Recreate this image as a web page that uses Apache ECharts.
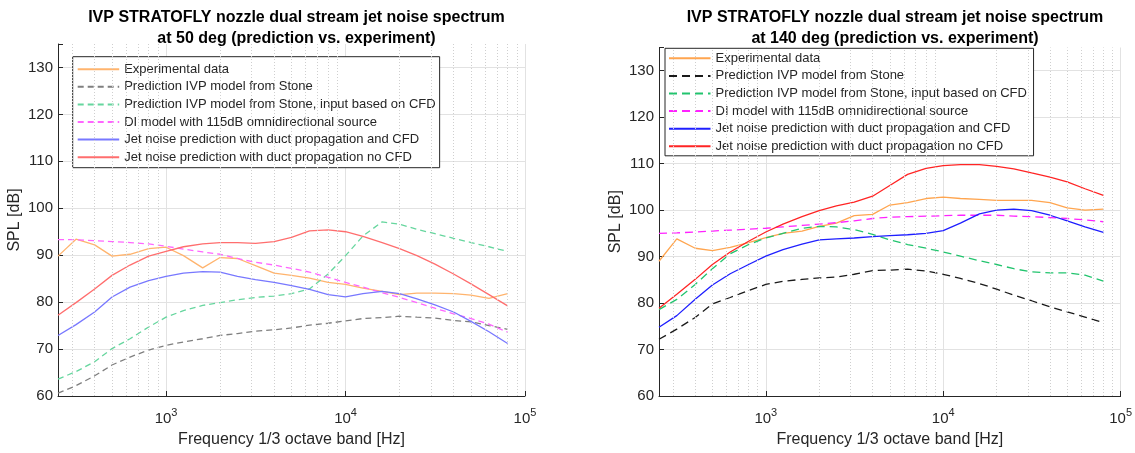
<!DOCTYPE html>
<html>
<head>
<meta charset="utf-8">
<script src="https://cdn.jsdelivr.net/npm/echarts@6/dist/echarts.min.js"></script>
<style>
  html, body { margin: 0; padding: 0; background: #fff; }
  #chart { width: 1135px; height: 453px; }
</style>
</head>
<body>
<div id="chart"></div>
<script>
// 1/3 octave band centre frequencies [Hz]
const freqs = [250, 315, 400, 500, 630, 800, 1000, 1250, 1600, 2000, 2500, 3150, 4000,
  5000, 6300, 8000, 10000, 12500, 16000, 20000, 25000, 31500, 40000, 50000, 63000, 80000];

// 50 deg
const exp50 = [89.8, 93.4, 92.2, 89.8, 90.2, 91.4, 91.7, 89.9, 87.3, 89.5, 89.3, 87.8, 86.2,
  85.7, 85.1, 84.2, 83.8, 83.0, 82.3, 81.6, 81.9, 81.9, 81.8, 81.5, 80.8, 81.8];
const stone50 = [60.6, 62.2, 64.3, 66.6, 68.3, 69.8, 70.8, 71.5, 72.2, 72.9, 73.3, 73.8, 74.1,
  74.5, 75.1, 75.5, 76.0, 76.5, 76.7, 77.0, 76.8, 76.6, 76.1, 75.8, 75.0, 74.2];
const cfd50 = [63.6, 65.2, 67.3, 70.1, 72.2, 74.7, 76.8, 78.2, 79.3, 79.9, 80.5, 81.0, 81.3,
  81.8, 82.8, 86.0, 89.9, 94.1, 97.1, 96.6, 95.5, 94.6, 93.6, 92.7, 91.8, 90.8];
const di50 = [93.3, 93.3, 93.1, 92.9, 92.7, 92.4, 91.9, 91.3, 90.7, 90.2, 89.3, 88.5, 87.9,
  87.2, 86.4, 85.3, 84.2, 83.2, 82.0, 81.0, 79.9, 78.7, 77.5, 76.5, 75.3, 73.6];
const duct50 = [72.9, 75.2, 77.9, 81.1, 83.2, 84.6, 85.5, 86.2, 86.5, 86.4, 85.5, 84.8, 84.2,
  83.5, 82.7, 81.6, 81.1, 81.8, 82.3, 81.8, 80.7, 79.4, 77.9, 75.9, 73.7, 71.2];
const ductNoCfd50 = [77.2, 79.9, 82.8, 85.7, 87.9, 89.8, 90.8, 91.8, 92.4, 92.7, 92.7, 92.5, 92.9,
  93.8, 95.2, 95.4, 95.0, 94.0, 92.7, 91.4, 89.9, 88.1, 86.0, 83.9, 81.6, 79.2];

// 140 deg
const exp140 = [89.0, 93.8, 91.8, 91.3, 92.0, 93.0, 94.1, 95.0, 95.5, 96.5, 97.2, 98.8, 99.1,
  101.1, 101.6, 102.5, 102.8, 102.5, 102.3, 102.1, 102.1, 102.1, 101.6, 100.5, 100.0, 100.2];
const stone140 = [72.2, 74.4, 76.9, 79.8, 81.2, 82.7, 84.0, 84.7, 85.1, 85.4, 85.6, 86.2, 87.0,
  87.1, 87.3, 86.9, 86.2, 85.3, 84.2, 83.0, 81.7, 80.5, 79.2, 78.1, 77.0, 75.8];
const cfd140 = [78.6, 80.8, 84.0, 87.4, 90.6, 92.6, 94.0, 95.0, 96.1, 96.5, 96.4, 95.8, 94.8,
  93.6, 92.6, 91.8, 91.0, 90.1, 89.1, 88.3, 87.4, 86.7, 86.5, 86.5, 86.0, 84.7];
const di140 = [95.0, 95.1, 95.3, 95.5, 95.7, 95.9, 96.1, 96.4, 96.7, 97.0, 97.3, 97.7, 98.2,
  98.5, 98.6, 98.7, 98.8, 98.9, 98.9, 98.9, 98.7, 98.6, 98.4, 98.2, 97.9, 97.5];
const duct140 = [74.8, 77.3, 80.8, 83.9, 86.3, 88.3, 90.1, 91.5, 92.7, 93.6, 93.8, 94.0, 94.3,
  94.5, 94.7, 95.0, 95.6, 97.2, 99.2, 100.0, 100.2, 99.9, 98.9, 97.7, 96.4, 95.2];
const ductNoCfd140 = [78.9, 81.9, 85.1, 88.3, 91.0, 93.3, 95.3, 97.0, 98.6, 99.9, 100.9, 101.7, 103.0,
  105.3, 107.7, 109.0, 109.6, 109.8, 109.8, 109.4, 108.9, 108.0, 107.1, 106.1, 104.6, 103.2];

// minor log grid positions
const minorFreqs = [300, 400, 500, 600, 700, 800, 900,
  2000, 3000, 4000, 5000, 6000, 7000, 8000, 9000,
  20000, 30000, 40000, 50000, 60000, 70000, 80000, 90000];

const seriesNames = [
  "Experimental data",
  "Prediction IVP model from Stone",
  "Prediction IVP model from Stone, input based on CFD",
  "DI model with 115dB omnidirectional source",
  "Jet noise prediction with duct propagation and CFD",
  "Jet noise prediction with duct propagation no CFD"
];
const titles = [
  "IVP STRATOFLY nozzle dual stream jet noise spectrum\nat 50 deg (prediction vs. experiment)",
  "IVP STRATOFLY nozzle dual stream jet noise spectrum\nat 140 deg (prediction vs. experiment)"
];

const FONT = "Liberation Sans, Arial, Helvetica, sans-serif";
const AXIS_COLOR = "#262626";

// left panel lines are drawn half transparent, right panel solid
const styles = [
  [
    { color: "#ffb46e", type: "solid" },
    { color: "#7f7f7f", type: [6, 4] },
    { color: "#66d69e", type: [6, 4] },
    { color: "#ff66ff", type: [6, 4] },
    { color: "#7878ff", type: "solid" },
    { color: "#ff6e6e", type: "solid" }
  ],
  [
    { color: "#ffa54f", type: "solid" },
    { color: "#1a1a1a", type: [8, 5] },
    { color: "#22c46e", type: [8, 5] },
    { color: "#ff22ff", type: [8, 5] },
    { color: "#1f1fff", type: "solid" },
    { color: "#ff2424", type: "solid" }
  ]
];
const panelData = [
  [exp50, stone50, cfd50, di50, duct50, ductNoCfd50],
  [exp140, stone140, cfd140, di140, duct140, ductNoCfd140]
];

const grids = [
  { left: 58, top: 44, width: 467, height: 354 },
  { left: 659, top: 47.5, width: 462, height: 352 }
];

// 10^n labels for the log axis
function logLabel(v) {
  const e = Math.log10(v);
  if (Math.abs(e - Math.round(e)) > 1e-6) return "";
  return "{b|10}{s|" + Math.round(e) + "}";
}

const xAxes = grids.map((g, i) => ({
  gridIndex: i,
  type: "log",
  logBase: 10,
  min: 250,
  max: 100000,
  name: "Frequency 1/3 octave band [Hz]",
  nameLocation: "middle",
  nameGap: 36,
  nameTextStyle: { fontSize: 16, color: AXIS_COLOR, fontFamily: FONT },
  axisLine: { show: true, lineStyle: { color: AXIS_COLOR, width: 1 } },
  axisTick: { show: true, inside: true, length: 5, lineStyle: { color: AXIS_COLOR } },
  axisLabel: {
    margin: 11,
    color: AXIS_COLOR,
    fontFamily: FONT,
    formatter: logLabel,
    rich: {
      b: { fontSize: 15, color: AXIS_COLOR, fontFamily: FONT },
      s: { fontSize: 11, color: AXIS_COLOR, fontFamily: FONT, padding: [0, 0, 12, 0] }
    }
  },
  splitLine: { show: true, lineStyle: { color: "#e2e2e2", width: 1 } }
}));

const yAxes = grids.map((g, i) => ({
  gridIndex: i,
  type: "value",
  min: 60,
  max: 135,
  interval: 10,
  name: "SPL [dB]",
  nameLocation: "middle",
  nameGap: 35,
  nameTextStyle: { fontSize: 16, color: AXIS_COLOR, fontFamily: FONT },
  axisLine: { show: true, lineStyle: { color: AXIS_COLOR, width: 1 } },
  axisTick: { show: true, inside: true, length: 5, lineStyle: { color: AXIS_COLOR } },
  axisLabel: {
    margin: 5,
    fontSize: 15,
    color: AXIS_COLOR,
    fontFamily: FONT,
    formatter: v => (v % 10 === 0 ? String(v) : "")
  },
  // no grid line along the open top edge
  splitLine: { show: true, showMaxLine: false, lineStyle: { color: "#e2e2e2", width: 1 } }
}));

const series = [];
for (let p = 0; p < 2; p++) {
  // dotted minor grid, drawn first so it lies under the curves
  series.push({
    type: "line",
    xAxisIndex: p,
    yAxisIndex: p,
    data: [],
    silent: true,
    markLine: {
      silent: true,
      symbol: "none",
      label: { show: false },
      animation: false,
      lineStyle: { color: "#cfcfcf", type: [1, 2], width: 1 },
      data: minorFreqs.map(f => ({ xAxis: f }))
    }
  });
  for (let k = 0; k < seriesNames.length; k++) {
    series.push({
      // right panel names get a trailing space so each legend keeps its own colours
      name: seriesNames[k] + (p === 1 ? " " : ""),
      type: "line",
      xAxisIndex: p,
      yAxisIndex: p,
      symbol: "none",
      smooth: false,
      animation: false,
      color: styles[p][k].color,
      lineStyle: { color: styles[p][k].color, type: styles[p][k].type, width: 1.3 },
      data: freqs.map((f, j) => [f, panelData[p][k][j]])
    });
  }
}

const legends = [
  { left: 72.7, top: 56.7, padding: [6, 4, 4, 4], names: seriesNames },
  { left: 665, top: 48.3, padding: [3.5, 3, 3, 3], names: seriesNames.map(n => n + " ") }
].map(l => ({
  orient: "vertical",
  left: l.left,
  top: l.top,
  padding: l.padding,
  itemWidth: 41.5,
  itemHeight: 13,
  itemGap: 4.6,
  selectedMode: false,
  backgroundColor: "#fff",
  borderColor: AXIS_COLOR,
  borderWidth: 1,
  borderRadius: 0,
  itemStyle: { opacity: 0 }, // hide the circle marker, keep the line sample
  textStyle: { fontSize: 13, color: AXIS_COLOR, fontFamily: FONT },
  data: l.names
}));

const chart = echarts.init(document.getElementById("chart"), null, { renderer: "canvas" });
chart.setOption({
  backgroundColor: "#fff",
  animation: false,
  title: titles.map((t, i) => ({
    text: t,
    left: grids[i].left + grids[i].width / 2,
    top: 2,
    textAlign: "center",
    textStyle: { fontSize: 16, fontWeight: "bold", color: "#000", lineHeight: 21, fontFamily: FONT }
  })),
  legend: legends,
  grid: grids,
  xAxis: xAxes,
  yAxis: yAxes,
  series: series
});
</script>
</body>
</html>
